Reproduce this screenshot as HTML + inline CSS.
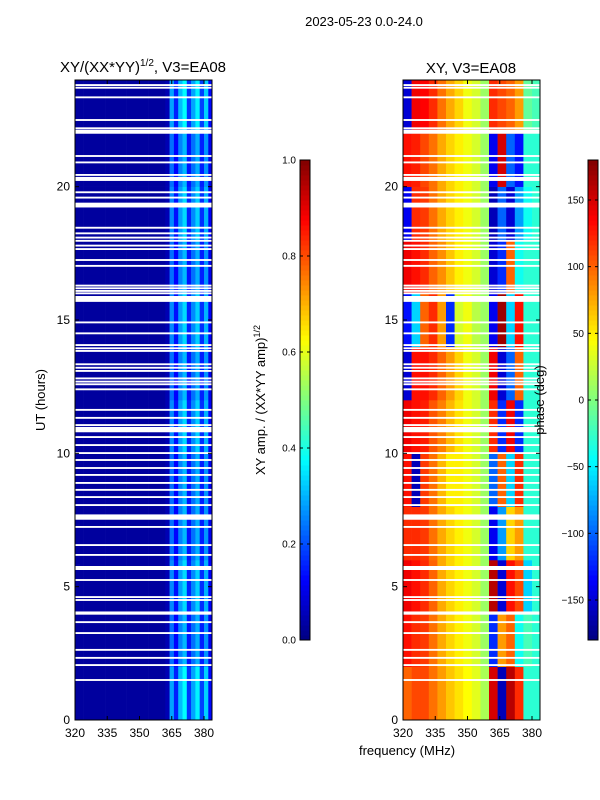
<!DOCTYPE html>
<html><head><meta charset="utf-8"><style>
html,body{margin:0;padding:0;background:#fff;width:600px;height:800px;overflow:hidden}
svg text{font-family:"Liberation Sans","DejaVu Sans",sans-serif;fill:#000}
</style></head><body>
<svg id="fig" width="600" height="800" viewBox="0 0 600 800" xmlns="http://www.w3.org/2000/svg">
<rect width="600" height="800" fill="#fff"/>
<text x="364" y="26" font-size="13" text-anchor="middle">2023-05-23 0.0-24.0</text>
<text x="143" y="72" font-size="15" text-anchor="middle">XY/(XX*YY)<tspan font-size="10" dy="-6">1/2</tspan><tspan dy="6">, V3=EA08</tspan></text>
<text x="471" y="73" font-size="15" text-anchor="middle">XY, V3=EA08</text>
<text x="45" y="400" font-size="13" text-anchor="middle" transform="rotate(-90 45 400)">UT (hours)</text>
<text x="407" y="755" font-size="13" text-anchor="middle">frequency (MHz)</text>
<text x="265" y="400" font-size="13" text-anchor="middle" transform="rotate(-90 265 400)">XY amp. / (XX*YY amp)<tspan font-size="9" dy="-5">1/2</tspan></text>
<g id="layer"></g>
<text x="544" y="400" font-size="13" text-anchor="middle" transform="rotate(-90 544 400)">phase (deg)</text>
</svg>
<script>
// ---- data ----
const ampFreqEdges = [320,322,324,326,328,330,332,334,336,338,340,342,344,346,348,350,352,354,356,358,360,362,364,366,368,370,372,374,376,378,380,382,384];
const ampValues = [0.03,0.03,0.03,0.03,0.03,0.03,0.03,0.03,0.03,0.03,0.03,0.03,0.03,0.03,0.03,0.03,0.03,0.03,0.03,0.03,0.03,0.05,0.26,0.14,0.28,0.34,0.16,0.26,0.33,0.17,0.3,0.12];
const ampBandScale = [1.1,0.9,1.0,0.9,0.9,1.0,0.9,1.0,0.9,1.0,0.9,1.1];
const phaseFreqEdges = [320,324,328,332,336,340,344,348,352,356,360,364,368,372,376,380,384];
const timeBands = [0,2,4,6,8,10,12,14,16,18,20,22,24];
const phaseValues = [
 [100,110,110,95,80,65,55,45,35,15,150,-160,160,120,-30,-30],
 [130,120,115,95,75,60,50,40,30,10,-120,80,100,-40,-20,-30],
 [140,130,120,100,75,60,50,40,30,10,160,-150,130,110,-60,-30],
 [120,120,115,95,75,60,50,40,30,10,-140,-80,60,80,-30,-30],
 [130,-160,115,95,70,50,50,40,30,10,-100,100,-60,120,-30,-30],
 [140,130,125,105,90,70,55,40,30,10,120,-120,140,-120,-30,-30],
 [-150,130,130,120,100,80,60,40,30,10,140,-150,-100,100,-30,-30],
 [-130,-60,100,120,80,-120,30,40,20,10,-140,170,-60,130,-30,-30],
 [140,130,120,100,85,65,50,40,30,10,-150,-120,100,-40,-30,-30],
 [-140,120,115,95,75,60,50,40,30,10,-160,-100,-150,-80,-40,-30],
 [130,125,110,95,75,60,50,40,30,10,-140,150,-100,-130,-30,-30],
 [-150,140,135,120,95,75,60,40,30,10,120,110,100,80,-10,-20]
];
const flagHours = [23.81,23.71,23.35,22.5,22.19,22.06,21.15,20.91,20.44,20.29,19.79,19.59,19.31,18.46,18.25,18.09,17.97,17.79,17.66,17.25,17.03,16.29,16.19,16.09,16.0,15.79,14.91,14.5,14.06,13.94,13.84,13.34,13.21,13.09,12.81,12.69,12.59,12.4,11.63,11.33,11.06,10.89,10.61,10.31,10.01,9.75,9.45,9.19,8.89,8.63,8.36,8.06,7.61,7.24,6.56,6.19,5.7,5.25,4.61,4.5,4.01,3.67,3.26,2.63,2.33,2.06,1.5];
const flagWidths = [0.07,0.07,0.07,0.07,0.07,0.15,0.07,0.07,0.07,0.15,0.07,0.07,0.18,0.07,0.07,0.07,0.07,0.07,0.07,0.07,0.07,0.07,0.07,0.07,0.07,0.22,0.07,0.07,0.07,0.07,0.07,0.07,0.07,0.07,0.07,0.07,0.07,0.07,0.07,0.07,0.07,0.2,0.07,0.07,0.07,0.07,0.07,0.07,0.07,0.07,0.07,0.07,0.2,0.07,0.07,0.07,0.15,0.07,0.07,0.07,0.12,0.07,0.07,0.07,0.07,0.07,0.07];
const yTicks = [0,5,10,15,20];
const xTicks = [320,335,350,365,380];
const ampCbTicks = [0.0,0.2,0.4,0.6,0.8,1.0];
const phaseCbTicks = [-150,-100,-50,0,50,100,150];

// ---- geometry ----
const NS='http://www.w3.org/2000/svg';
const layer=document.getElementById('layer');
const PT=80,PB=720;
const yS=h=>PB-(h/24)*(PB-PT);
const xL=f=>75+(f-320)*(129/60);
const xR=f=>403+(f-320)*(129/60);
function jet(v){v=Math.max(0,Math.min(1,v));
 const r=Math.max(0,Math.min(1,1.5-Math.abs(4*v-3))),g=Math.max(0,Math.min(1,1.5-Math.abs(4*v-2))),b=Math.max(0,Math.min(1,1.5-Math.abs(4*v-1)));
 return `rgb(${Math.round(r*255)},${Math.round(g*255)},${Math.round(b*255)})`;}
function mk(tag,attrs,parent){const e=document.createElementNS(NS,tag);for(const k in attrs)e.setAttribute(k,attrs[k]);(parent||layer).appendChild(e);return e;}

// left heatmap
const gL=mk('g',{});


for(let b=0;b<timeBands.length-1;b++){
 for(let i=0;i<ampValues.length;i++){
  const x0=xL(ampFreqEdges[i]),x1=Math.min(xL(ampFreqEdges[i+1]),212);
  const c=mk('rect',{x:x0,y:yS(timeBands[b+1]),width:x1-x0+0.3,height:yS(timeBands[b])-yS(timeBands[b+1])+0.3,fill:jet(i>=22?ampValues[i]*ampBandScale[b]:ampValues[i])},gL);
  
  
 }
}
// right heatmap
const gR=mk('g',{});


for(let b=0;b<phaseValues.length;b++){
 for(let i=0;i<phaseValues[b].length;i++){
  const x0=xR(phaseFreqEdges[i]),x1=Math.min(xR(phaseFreqEdges[i+1]),540);
  const c=mk('rect',{x:x0,y:yS(timeBands[b+1]),width:x1-x0+0.3,height:yS(timeBands[b])-yS(timeBands[b+1])+0.3,fill:jet((phaseValues[b][i]+180)/360)},gR);
  
  
 }
}
// flagged rows
for(let k=0;k<flagHours.length;k++){
 for(const [x0,w] of [[75,137],[403,137]]){
  const f=mk('rect',{x:x0,y:yS(flagHours[k]+flagWidths[k]/2),width:w,height:Math.max(1.5,yS(flagHours[k]-flagWidths[k]/2)-yS(flagHours[k]+flagWidths[k]/2)),fill:'#fff'});
  
  
 }
}
// frames & ticks
for(const [x0,xf] of [[75,xL],[403,xR]]){
 const fr=mk('rect',{x:x0,y:PT,width:137,height:PB-PT,fill:'none',stroke:'#000','stroke-width':1});
 
 
 for(const t of yTicks){
  mk('line',{x1:x0,x2:x0+4,y1:yS(t),y2:yS(t),stroke:'#000'});
  mk('line',{x1:x0+137,x2:x0+133,y1:yS(t),y2:yS(t),stroke:'#000'});
  const tx=mk('text',{x:x0-5,y:yS(t)+4,'font-size':12,'text-anchor':'end'});tx.textContent=t;
  
  
 }
 for(const t of xTicks){
  mk('line',{x1:xf(t),x2:xf(t),y1:PB,y2:PB-4,stroke:'#000'});
  mk('line',{x1:xf(t),x2:xf(t),y1:PT,y2:PT+4,stroke:'#000'});
  const tx=mk('text',{x:xf(t),y:PB+17,'font-size':12,'text-anchor':'middle'});tx.textContent=t;
  
  
 }
}
// colorbars
const CT=160,CB=640;
function colorbar(x,name,ticks,lo,hi,fmt){
 const g=mk('g',{});
 
 
 const N=96;
 for(let i=0;i<N;i++){mk('rect',{x:x,y:CB-(i+1)*(CB-CT)/N,width:10,height:(CB-CT)/N+0.5,fill:jet((i+0.5)/N)},g);}
 mk('rect',{x:x,y:CT,width:10,height:CB-CT,fill:'none',stroke:'#000'},g);
 for(const t of ticks){const y=CB-(t-lo)/(hi-lo)*(CB-CT);
  mk('line',{x1:x,x2:x+3,y1:y,y2:y,stroke:'#000'},g);mk('line',{x1:x+10,x2:x+7,y1:y,y2:y,stroke:'#000'},g);
  const tx=mk('text',{x:x-4,y:y+3.5,'font-size':10,'text-anchor':'end'},g);tx.textContent=fmt(t);
  
  }
}
colorbar(300,'amp-colorbar',ampCbTicks,0,1,t=>t.toFixed(1));
colorbar(588,'phase-colorbar',phaseCbTicks,-180,180,t=>t<0?'\u2212'+(-t):String(t));
</script>
</body></html>
